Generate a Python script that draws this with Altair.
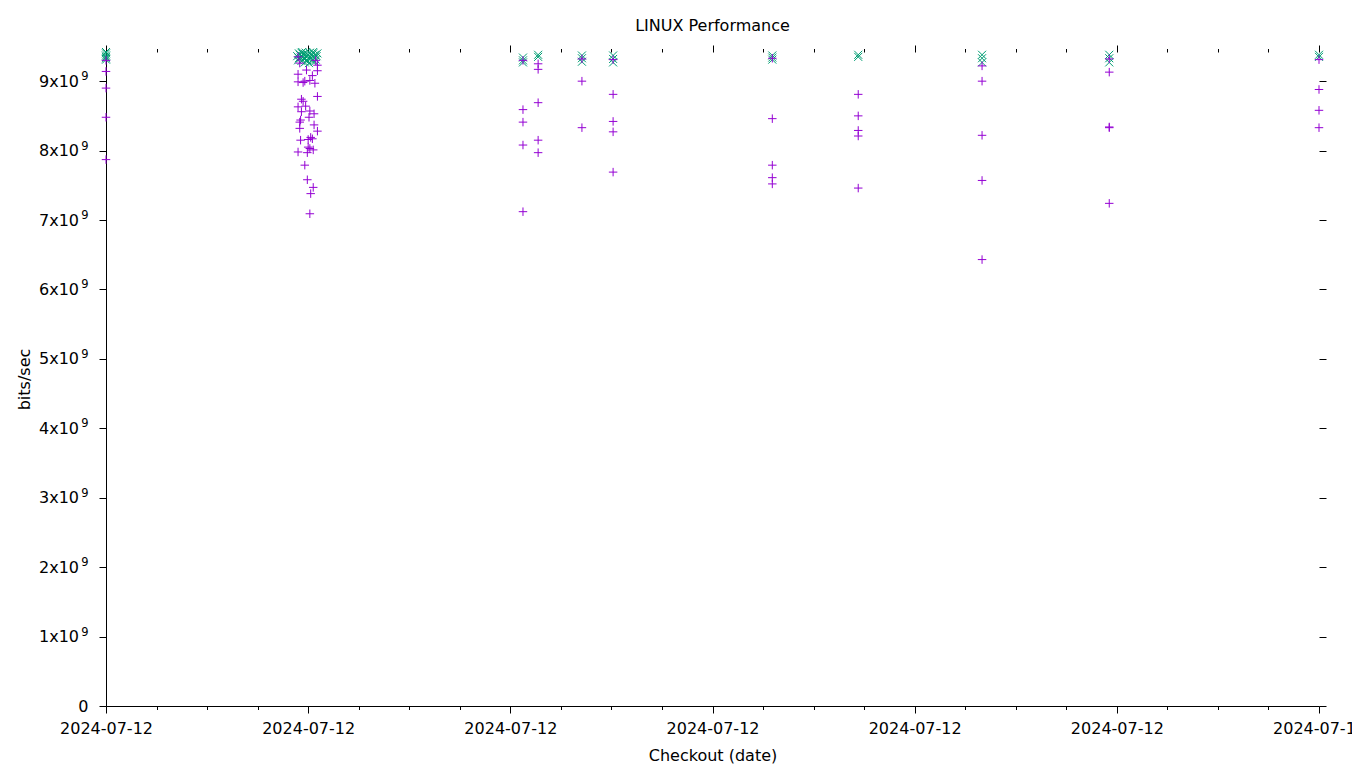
import altair as alt
import pandas as pd

# ---- data ----
# purple "+" series (time, bits/sec)
purple_time = (
    ["2024-07-12T00:00"] * 5
    + ["2024-07-12T03:48", "2024-07-12T04:09", "2024-07-12T04:11", "2024-07-12T03:50", "2024-07-12T03:58",
       "2024-07-12T04:11", "2024-07-12T03:48", "2024-07-12T04:05", "2024-07-12T03:48", "2024-07-12T03:56",
       "2024-07-12T03:54", "2024-07-12T04:02", "2024-07-12T04:08", "2024-07-12T04:11", "2024-07-12T03:52",
       "2024-07-12T03:54", "2024-07-12T03:48", "2024-07-12T03:57", "2024-07-12T04:02", "2024-07-12T03:52",
       "2024-07-12T04:07", "2024-07-12T04:01", "2024-07-12T03:51", "2024-07-12T03:50", "2024-07-12T04:07",
       "2024-07-12T03:50", "2024-07-12T04:11", "2024-07-12T04:03", "2024-07-12T03:51", "2024-07-12T04:00",
       "2024-07-12T04:05", "2024-07-12T03:48", "2024-07-12T03:59", "2024-07-12T04:00", "2024-07-12T04:06",
       "2024-07-12T04:02", "2024-07-12T03:56", "2024-07-12T03:59", "2024-07-12T04:06", "2024-07-12T04:03",
       "2024-07-12T04:02"]
    + ["2024-07-12T08:15"] * 5
    + ["2024-07-12T08:33"] * 5
    + ["2024-07-12T09:25"] * 3
    + ["2024-07-12T10:02"] * 5
    + ["2024-07-12T13:11"] * 5
    + ["2024-07-12T14:53"] * 5
    + ["2024-07-12T17:20"] * 5
    + ["2024-07-12T19:51"] * 5
    + ["2024-07-13T00:00"] * 4
)
purple_gbps = (
    [9.30, 9.14, 8.90, 8.48, 7.87]
    + [9.35, 9.30, 9.23, 9.26, 9.16, 9.15, 9.10, 9.08, 8.99, 9.00,
       8.98, 9.01, 8.97, 8.78, 8.74, 8.71, 8.63, 8.64, 8.57, 8.56,
       8.53, 8.48, 8.44, 8.41, 8.37, 8.32, 8.28, 8.19, 8.15, 8.16,
       8.17, 7.98, 7.97, 8.05, 8.01, 8.03, 7.79, 7.58, 7.47, 7.38,
       7.09]
    + [9.30, 8.59, 8.41, 8.08, 7.12]
    + [9.25, 9.17, 8.69, 8.15, 7.97]
    + [9.32, 9.00, 8.33]
    + [9.31, 8.81, 8.42, 8.27, 7.69]
    + [9.33, 8.46, 7.79, 7.61, 7.52]
    + [8.81, 8.50, 8.29, 8.21, 7.46]
    + [9.22, 9.00, 8.22, 7.57, 6.43]
    + [9.32, 9.13, 8.33, 8.34, 7.24]
    + [9.31, 8.88, 8.58, 8.33]
)

# green "x" series (time, bits/sec)
green_time = (
    ["2024-07-12T00:00"] * 6
    + ["2024-07-12T03:47", "2024-07-12T03:48", "2024-07-12T03:49", "2024-07-12T03:49", "2024-07-12T03:50",
       "2024-07-12T03:51", "2024-07-12T03:52", "2024-07-12T03:52", "2024-07-12T03:53", "2024-07-12T03:53",
       "2024-07-12T03:54", "2024-07-12T03:55", "2024-07-12T03:56", "2024-07-12T03:57", "2024-07-12T03:57",
       "2024-07-12T03:58", "2024-07-12T03:59", "2024-07-12T04:00", "2024-07-12T04:01", "2024-07-12T04:02",
       "2024-07-12T04:02", "2024-07-12T04:03", "2024-07-12T04:04", "2024-07-12T04:05", "2024-07-12T04:06",
       "2024-07-12T04:06", "2024-07-12T04:07", "2024-07-12T04:08", "2024-07-12T04:08", "2024-07-12T04:09",
       "2024-07-12T04:10", "2024-07-12T04:11"]
    + ["2024-07-12T08:15"] * 3
    + ["2024-07-12T08:33"] * 2
    + ["2024-07-12T09:25"] * 3
    + ["2024-07-12T10:02"] * 3
    + ["2024-07-12T13:11"] * 3
    + ["2024-07-12T14:53"] * 2
    + ["2024-07-12T17:20"] * 3
    + ["2024-07-12T19:51"] * 3
    + ["2024-07-13T00:00"] * 2
)
green_gbps = (
    [9.42, 9.40, 9.37, 9.35, 9.33, 9.31]
    + [9.36, 9.30, 9.40, 9.33, 9.38, 9.34, 9.41, 9.29, 9.36, 9.42,
       9.39, 9.32, 9.27, 9.41, 9.38, 9.35, 9.30, 9.38, 9.26, 9.41,
       9.35, 9.33, 9.37, 9.29, 9.40, 9.42, 9.34, 9.38, 9.28, 9.31,
       9.36, 9.40]
    + [9.34, 9.30, 9.27]
    + [9.38, 9.35]
    + [9.37, 9.33, 9.28]
    + [9.37, 9.32, 9.27]
    + [9.37, 9.34, 9.31]
    + [9.38, 9.35]
    + [9.38, 9.33, 9.27]
    + [9.38, 9.33, 9.27]
    + [9.38, 9.35]
)

y_tick_values = [1e9, 2e9, 3e9, 4e9, 5e9, 6e9, 7e9, 8e9, 9e9]
y_max = 9.42e9
x_major_hours = [0, 4, 8, 12, 16, 20, 24]
x_minor_hours = [h for h in range(1, 24) if h % 4]

purple_df = pd.DataFrame({"t": [s + ":00Z" for s in purple_time],
                          "bps": [v * 1e9 for v in purple_gbps]})
green_df = pd.DataFrame({"t": [s + ":00Z" for s in green_time],
                         "bps": [v * 1e9 for v in green_gbps]})


def dt(h):
    d, hh = divmod(h, 24)
    return alt.DateTime(year=2024, month=7, date=12 + d, hours=hh, utc=True)


FONT = "DejaVu Sans"
PURPLE = "#9400d3"
GREEN = "#009e73"
PLUS = "M-1,0L1,0M0,-1L0,1"
CROSS = "M-1,-1L1,1M-1,1L1,-1"

xscale = alt.Scale(type="utc", domain=[dt(0), dt(24)])
yscale = alt.Scale(domain=[0, y_max], nice=False, zero=True)

lab = dict(labelFont=FONT, labelColor="black", grid=False, tickColor="black")

x_bottom = alt.Axis(orient="bottom", values=[dt(h) for h in x_major_hours],
                    labelExpr="utcFormat(datum.value, '%Y-%m-%d')",
                    labelFlush=False, labelOverlap=False, labelPadding=7,
                    labelFontSize=16, tickSize=7, domainColor="black",
                    title="Checkout (date)", titlePadding=11, titleFont=FONT,
                    titleFontSize=16, titleFontWeight="normal", titleColor="black",
                    **lab)
x_bottom_minor = alt.Axis(orient="bottom", values=[dt(h) for h in x_minor_hours],
                          labels=False, domain=False, tickSize=3.5, title=None,
                          grid=False, tickColor="black")
x_top = alt.Axis(orient="top", values=[dt(h) for h in x_major_hours],
                 labels=False, domain=False, tickSize=7, title=None,
                 grid=False, tickColor="black")
x_top_minor = alt.Axis(orient="top", values=[dt(h) for h in x_minor_hours],
                       labels=False, domain=False, tickSize=3.5, title=None,
                       grid=False, tickColor="black")
# main y labels "Nx10", with the exponent drawn by a second axis as a superscript
y_left = alt.Axis(orient="left", values=[0] + y_tick_values,
                  labelExpr="datum.value == 0 ? '' : format(datum.value / 1e9, 'd') + 'x10'",
                  labelFontSize=16, tickSize=7, labelPadding=20.5, domainColor="black",
                  title="bits/sec", titlePadding=6, titleFont=FONT, titleFontSize=16,
                  titleFontWeight="normal", titleColor="black", **lab)
y_left_sup = alt.Axis(orient="left", values=y_tick_values, labelExpr="'9'",
                      labelFontSize=11.5, labelPadding=18, labelOffset=-4.5,
                      labelOverlap=False, ticks=False, domain=False, title=None, **lab)
y_left_zero = alt.Axis(orient="left", values=[0], labelExpr="'0'",
                       labelFontSize=16, labelPadding=18, ticks=False, domain=False,
                       title=None, **lab)
y_right = alt.Axis(orient="right", values=[0] + y_tick_values, labels=False,
                   domain=False, tickSize=7, title=None, grid=False,
                   tickColor="black")

green_layer = alt.Chart(green_df).mark_point(
    shape=CROSS, filled=False, color=GREEN, size=64, strokeWidth=1, opacity=1
).encode(
    x=alt.X("t:T", scale=xscale, axis=x_bottom),
    y=alt.Y("bps:Q", scale=yscale, axis=y_left),
)

purple_layer = alt.Chart(purple_df).mark_point(
    shape=PLUS, filled=False, color=PURPLE, size=72, strokeWidth=1, opacity=1
).encode(
    x=alt.X("t:T", scale=xscale, axis=x_bottom_minor),
    y=alt.Y("bps:Q", scale=yscale, axis=y_right),
)

top_layer = alt.Chart(purple_df).mark_point(opacity=0).encode(
    x=alt.X("t:T", scale=xscale, axis=x_top),
    y=alt.Y("bps:Q", scale=yscale, axis=y_left_sup),
)

top_minor_layer = alt.Chart(purple_df).mark_point(opacity=0).encode(
    x=alt.X("t:T", scale=xscale, axis=x_top_minor),
    y=alt.Y("bps:Q", scale=yscale, axis=y_left_zero),
)

chart = alt.layer(green_layer, purple_layer, top_layer, top_minor_layer).resolve_axis(
    x="independent", y="independent"
).properties(
    width=1213,
    height=654,
    autosize=alt.AutoSizeParams(type="none"),
    padding={"left": 98, "top": 44, "right": 33, "bottom": 58},
    title=alt.TitleParams("LINUX Performance", font=FONT, fontSize=16,
                          fontWeight="normal", color="black", anchor="middle",
                          frame="group", offset=11),
    background="white",
).configure_view(stroke=None)

chart.save("out.html", embed_options={"renderer": "svg", "actions": False})
